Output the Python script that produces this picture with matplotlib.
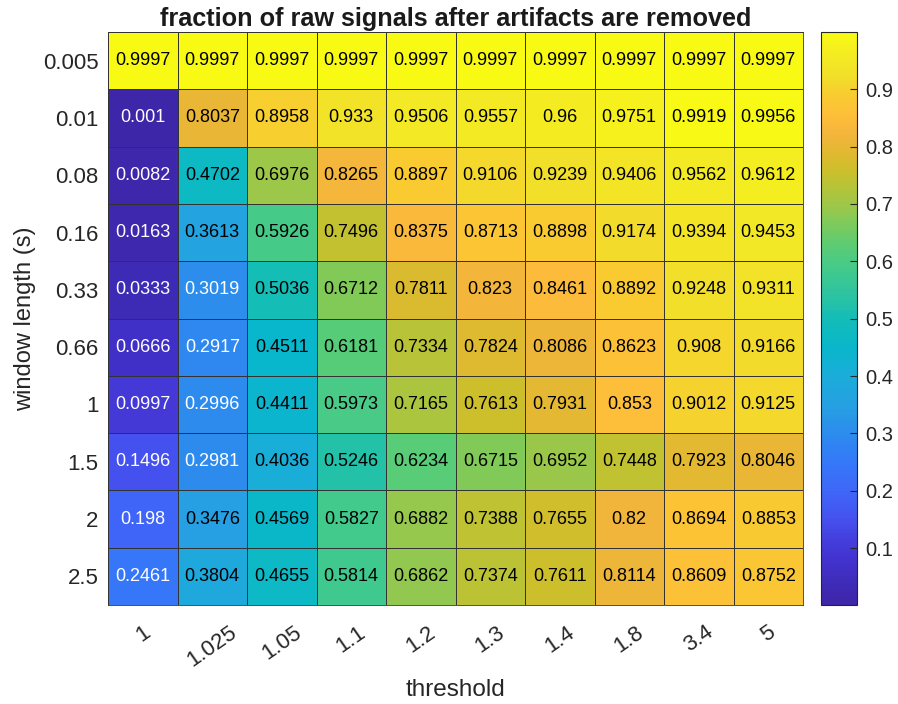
import numpy as np
import matplotlib
matplotlib.use("Agg")
import matplotlib.pyplot as plt
from matplotlib.colors import LinearSegmentedColormap

plt.rcParams['font.family'] = ['Liberation Sans', 'DejaVu Sans']

thresholds = ["1", "1.025", "1.05", "1.1", "1.2", "1.3", "1.4", "1.8", "3.4", "5"]
window_lengths = ["0.005", "0.01", "0.08", "0.16", "0.33", "0.66", "1", "1.5", "2", "2.5"]

fraction = np.array([
    [0.9997, 0.9997, 0.9997, 0.9997, 0.9997, 0.9997, 0.9997, 0.9997, 0.9997, 0.9997],
    [0.001, 0.8037, 0.8958, 0.933, 0.9506, 0.9557, 0.96, 0.9751, 0.9919, 0.9956],
    [0.0082, 0.4702, 0.6976, 0.8265, 0.8897, 0.9106, 0.9239, 0.9406, 0.9562, 0.9612],
    [0.0163, 0.3613, 0.5926, 0.7496, 0.8375, 0.8713, 0.8898, 0.9174, 0.9394, 0.9453],
    [0.0333, 0.3019, 0.5036, 0.6712, 0.7811, 0.823, 0.8461, 0.8892, 0.9248, 0.9311],
    [0.0666, 0.2917, 0.4511, 0.6181, 0.7334, 0.7824, 0.8086, 0.8623, 0.908, 0.9166],
    [0.0997, 0.2996, 0.4411, 0.5973, 0.7165, 0.7613, 0.7931, 0.853, 0.9012, 0.9125],
    [0.1496, 0.2981, 0.4036, 0.5246, 0.6234, 0.6715, 0.6952, 0.7448, 0.7923, 0.8046],
    [0.198, 0.3476, 0.4569, 0.5827, 0.6882, 0.7388, 0.7655, 0.82, 0.8694, 0.8853],
    [0.2461, 0.3804, 0.4655, 0.5814, 0.6862, 0.7374, 0.7611, 0.8114, 0.8609, 0.8752],
])

# Parula-style colormap (purple -> blue -> teal -> green -> orange -> yellow)
parula_anchors = [
    (0.000, "#3e26a8"),
    (0.033, "#3e2bb6"),
    (0.067, "#4131c9"),
    (0.100, "#4438d8"),
    (0.150, "#4552ee"),
    (0.198, "#3f66f8"),
    (0.246, "#3578f9"),
    (0.295, "#2d8aef"),
    (0.348, "#26a0e2"),
    (0.404, "#19aed8"),
    (0.451, "#08b7cb"),
    (0.504, "#15bdb5"),
    (0.525, "#24c1a9"),
    (0.581, "#40c98e"),
    (0.623, "#58cc77"),
    (0.671, "#82ca57"),
    (0.695, "#9bc74a"),
    (0.745, "#c1c231"),
    (0.761, "#cdbf2c"),
    (0.792, "#e2b931"),
    (0.820, "#f2b53b"),
    (0.846, "#fdbb3b"),
    (0.862, "#fdc137"),
    (0.889, "#f9ca30"),
    (0.925, "#f2df2a"),
    (0.956, "#f3ea23"),
    (1.000, "#f9fa14"),
]
parula = LinearSegmentedColormap.from_list("parula", parula_anchors, N=256)

W, H = 898, 704
fig = plt.figure(figsize=(W / 100, H / 100), dpi=100)
ax = fig.add_axes([108 / W, 1 - 605 / H, (803 - 108) / W, (605 - 32) / H])
cax = fig.add_axes([821 / W, 1 - 605 / H, (857 - 821) / W, (605 - 32) / H])

vmin, vmax = fraction.min(), fraction.max()
mesh = ax.pcolormesh(fraction, cmap=parula, vmin=vmin, vmax=vmax,
                     edgecolor="#333333", linewidth=0.6)
ax.set_xlim(0, len(thresholds))
ax.set_ylim(len(window_lengths), 0)

for i in range(fraction.shape[0]):
    for j in range(fraction.shape[1]):
        v = fraction[i, j]
        r, g, b, _ = parula((v - vmin) / (vmax - vmin))
        lum = 0.2126 * r + 0.7152 * g + 0.0722 * b
        color = "white" if lum < 0.52 else "black"
        ax.text(j + 0.5, i + 0.5, f"{v:g}", ha="center", va="center",
                fontsize=13, color=color)

ax.set_xticks(np.arange(len(thresholds)) + 0.5)
ax.set_xticklabels(thresholds, rotation=35, ha="center", va="top",
                   fontsize=16, color="#262626")
ax.set_yticks(np.arange(len(window_lengths)) + 0.5)
ax.set_yticklabels(window_lengths, fontsize=16, color="#262626")
ax.tick_params(length=0)
ax.tick_params(axis="y", pad=7)
ax.tick_params(axis="x", pad=12)
for s in ax.spines.values():
    s.set_color("#333333")
    s.set_linewidth(0.6)

ax.set_xlabel("threshold", fontsize=17.5, color="#262626", labelpad=6)
ax.set_ylabel("window length (s)", fontsize=17, color="#262626", labelpad=5)
ax.set_title("fraction of raw signals after artifacts are removed",
             fontsize=18.2, fontweight="bold", color="#1a1a1a", pad=4)

cb = fig.colorbar(mesh, cax=cax)
cb.set_ticks([0.1, 0.2, 0.3, 0.4, 0.5, 0.6, 0.7, 0.8, 0.9])
cb.ax.tick_params(labelsize=14.5, colors="#262626", length=5, width=0.8,
                  direction="in", pad=6)
cb.outline.set_linewidth(0.8)
cb.outline.set_edgecolor("#262626")

fig.savefig("out.png", dpi=100)
